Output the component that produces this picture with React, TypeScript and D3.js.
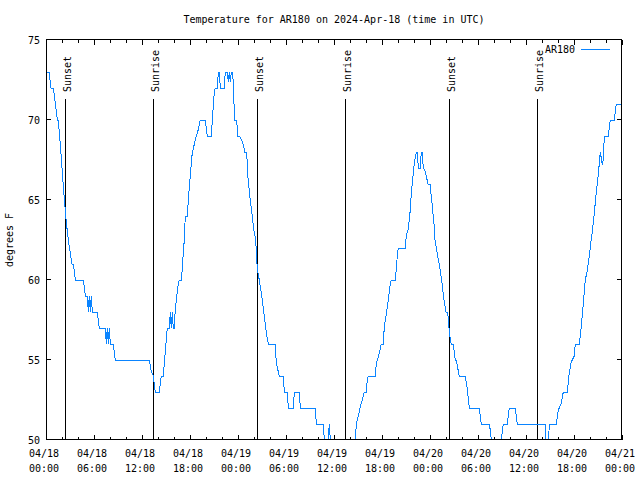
import React from "react";
import * as d3 from "d3";

const title = "Temperature for AR180 on 2024-Apr-18 (time in UTC)";
const yLabel = "degrees F";
const seriesName = "AR180";

// hours since 2024-04-18 00:00 UTC
const hours = [
  0.0, 0.375, 0.625, 0.92, 1.42, 1.54, 1.92, 2.17, 2.54, 2.79, 3.17, 3.25, 3.42, 3.67, 4.67, 4.92, 5.17,
  5.29, 5.41, 5.54, 5.66, 5.79, 6.41, 6.66, 7.41, 7.54, 7.66, 7.79, 7.91, 8.04,
  8.16, 8.41, 8.66, 12.91, 13.16, 13.41, 13.66, 14.16, 14.41, 14.66, 14.91, 15.16, 15.41, 15.54, 15.66,
  15.79, 15.91, 16.04, 16.16, 16.29, 16.54, 16.66, 16.91, 17.04, 17.16, 17.29, 17.41, 17.66,
  17.91, 18.29, 18.41, 18.66, 18.79, 19.04, 19.29, 19.91, 20.16, 20.66, 20.79, 21.04, 21.16, 21.41, 21.54,
  21.66, 21.79, 22.29, 22.41, 22.66, 22.79, 22.91, 23.04, 23.16, 23.34, 23.46, 23.59, 23.84, 23.96,
  24.21, 24.46, 24.71, 24.84, 25.09, 25.21, 25.46, 25.71, 25.96, 26.21, 26.41, 26.66, 27.04, 27.29, 27.54,
  27.79, 28.66, 28.79, 29.16, 29.66, 29.79, 30.16, 30.29, 30.91, 31.04, 31.66, 31.79, 33.66, 33.79, 34.66,
  34.79, 34.94, 35.2, 35.4, 35.55, 35.7, 38.56, 38.66, 38.79, 39.04, 39.29, 39.54, 39.79, 40.04, 40.16,
  40.29, 41.16, 41.29, 41.54, 41.79, 41.91, 42.16, 42.29, 42.54, 42.79, 43.04, 43.16, 43.66, 43.79, 43.91,
  44.04, 44.91, 45.04, 45.29, 45.54, 45.66, 45.79, 46.04, 46.29, 46.41, 46.54, 46.79, 46.91, 47.04, 47.16,
  47.4, 47.75, 48.0, 48.25, 48.5, 48.63, 49.0, 49.25, 49.5, 49.75, 50.0, 50.13, 50.25, 50.34, 50.54, 50.66,
  50.91, 51.16, 51.29, 51.54, 51.66, 52.41, 52.66, 52.91, 54.16, 54.41, 55.41, 55.54, 55.66, 55.8, 56.8,
  56.91, 57.16, 57.66, 57.91, 58.66, 58.91, 62.41, 62.55, 62.75, 62.91, 63.79, 64.04, 64.16, 64.41, 64.66,
  65.16, 65.41, 65.66, 65.79, 66.04, 66.16, 66.66, 66.91, 67.16, 67.41, 67.66, 67.91, 68.16, 68.29, 68.54,
  68.79, 69.04, 69.29, 69.54, 69.66, 69.79, 70.29, 70.54, 71.04, 71.29, 71.94,
];

const temps = [
  73, 73, 72, 72, 70, 70, 67.6, 65.8, 63.6, 62.5, 61.25, 61, 61, 60, 60, 59, 59,
  58, 59, 58, 59, 58, 58, 57, 57, 56, 57, 56, 57, 56,
  56, 56, 55, 55, 54.3, 54, 53, 53, 54, 54, 55.5, 57, 57, 58, 57,
  58, 57, 57, 58.2, 58.75, 59.8, 60, 60, 60.7, 61.75, 62.5, 64, 64,
  65.8, 68, 68.2, 68.75, 69, 69.4, 70, 70, 69, 69, 70, 71.8, 72, 72, 73,
  73, 72, 72, 73, 73, 72.4, 73, 72.4, 73, 73, 71.5, 70, 70, 69,
  69, 68.75, 68.4, 68, 68, 66.6, 65.3, 64.3, 63.2, 62.5, 60.7, 60, 58.75, 57.7, 56.7,
  56, 56, 54.8, 54, 54, 53, 53, 52, 52, 53, 53, 52, 52, 51, 51,
  50, 49, 49, 51, 50, 49, 49, 50, 51, 51.5, 52.1, 52.5, 53, 53, 53.75,
  54, 54, 54.8, 55.2, 55.7, 56, 56, 57.1, 57.9, 58.75, 59.8, 60, 60, 60.7, 61.5,
  62, 62, 62.8, 63.2, 64.4, 65.4, 66.1, 67.3, 68, 68, 67, 67, 68, 68, 67,
  66.8, 66, 66, 64.8, 63.5, 62.5, 61.4, 60.7, 59.8, 58.75, 58, 58, 57.75, 57.2, 56.25, 56,
  56, 55, 55, 54.3, 54, 54, 53.2, 52, 52, 51, 51, 50.6, 50, 49, 49,
  50, 51, 51, 52, 52, 51, 51, 49, 49, 51, 51, 51.9, 52, 52.3, 53,
  53, 54.2, 54.9, 55, 55.25, 56, 56, 57.1, 58.5, 60, 60.6, 61.5, 62.6, 63, 64.2,
  65.5, 66.6, 68, 67.2, 67.5, 69, 69, 70, 70, 71, 71,
];

const sunEventHours = [2.41, 13.34, 26.41, 37.34, 50.34, 61.34];
const sunEventLabels = ["Sunset", "Sunrise", "Sunset", "Sunrise", "Sunset", "Sunrise"];

const xTickHours = [0, 6, 12, 18, 24, 30, 36, 42, 48, 54, 60, 66, 72];
const xTickDates = ["04/18", "04/18", "04/18", "04/18", "04/19", "04/19", "04/19", "04/19", "04/20", "04/20", "04/20", "04/20", "04/21"];
const xTickTimes = ["00:00", "06:00", "12:00", "18:00", "00:00", "06:00", "12:00", "18:00", "00:00", "06:00", "12:00", "18:00", "00:00"];
const xMinorHours = d3.range(0, 73, 2);
const yTicks = [50, 55, 60, 65, 70, 75];

const FONT = "'DejaVu Sans Mono', 'Liberation Mono', monospace";
const LINE_COLOR = "#0a84ff";

export default function App() {
  const left = 46, right = 622, top = 40, bottom = 440;
  const x = d3.scaleLinear().domain([0, 72]).range([left, right]);
  const y = d3.scaleLinear().domain([50, 75]).range([bottom, top]);
  const pts = hours.map((h, i) => [h, temps[i]] as [number, number]);
  const line = d3.line<[number, number]>().x((d) => x(d[0])).y((d) => y(d[1]));
  const px = (v: number) => Math.round(v) + 0.5;

  return (
    <svg width={640} height={480} style={{ position: "absolute", left: 0, top: 0, background: "#fff" }}
      fontFamily={FONT} fontSize={10}>
      <rect x={0} y={0} width={640} height={480} fill="#fff" />
      <defs>
        <clipPath id="plotclip">
          <rect x={left} y={top} width={right - left} height={bottom - top} />
        </clipPath>
      </defs>
      <text x={(left + right) / 2} y={23} textAnchor="middle" fill="#000">{title}</text>
      <text transform={`translate(13,${(top + bottom) / 2}) rotate(-90)`} textAnchor="middle" fill="#000">{yLabel}</text>

      {/* y ticks */}
      {yTicks.map((t) => (
        <g key={"y" + t}>
          <line x1={left} x2={left + 5} y1={px(y(t)) - 1} y2={px(y(t)) - 1} stroke="#000" shapeRendering="crispEdges" />
          <line x1={right - 5} x2={right} y1={px(y(t)) - 1} y2={px(y(t)) - 1} stroke="#000" shapeRendering="crispEdges" />
          <text x={40} y={y(t) + 4} textAnchor="end" fill="#000">{t}</text>
        </g>
      ))}

      {/* x ticks */}
      {xMinorHours.map((h) => {
        const major = h % 6 === 0;
        const len = major ? 5 : 3;
        const xx = px(x(h));
        return (
          <g key={"x" + h}>
            <line x1={xx} x2={xx} y1={bottom} y2={bottom - len} stroke="#000" shapeRendering="crispEdges" />
            <line x1={xx} x2={xx} y1={top} y2={top + len} stroke="#000" shapeRendering="crispEdges" />
          </g>
        );
      })}
      {xTickHours.map((h, i) => (
        <g key={"xl" + h}>
          <text x={x(h) - 2} y={457} textAnchor="middle" fill="#000">{xTickDates[i]}</text>
          <text x={x(h) - 2} y={472} textAnchor="middle" fill="#000">{xTickTimes[i]}</text>
        </g>
      ))}

      {/* sunrise / sunset */}
      {sunEventHours.map((h, i) => {
        const xx = px(x(h));
        return (
          <g key={"s" + i}>
            <line x1={xx} x2={xx} y1={99} y2={bottom} stroke="#000" shapeRendering="crispEdges" />
            <text transform={`translate(${xx + 5},92) rotate(-90)`} textAnchor="start" fill="#000">{sunEventLabels[i]}</text>
          </g>
        );
      })}

      {/* data */}
      <path d={line(pts) || ""} fill="none" stroke={LINE_COLOR} strokeWidth={1} clipPath="url(#plotclip)" shapeRendering="crispEdges" />

      {/* border */}
      <rect x={left + 0.5} y={top - 0.5} width={right - left - 1} height={bottom - top} fill="none" stroke="#000" shapeRendering="crispEdges" />

      {/* legend */}
      <text x={575} y={53} textAnchor="end" fill="#000">{seriesName}</text>
      <line x1={581} x2={610} y1={49.5} y2={49.5} stroke={LINE_COLOR} shapeRendering="crispEdges" />
    </svg>
  );
}
